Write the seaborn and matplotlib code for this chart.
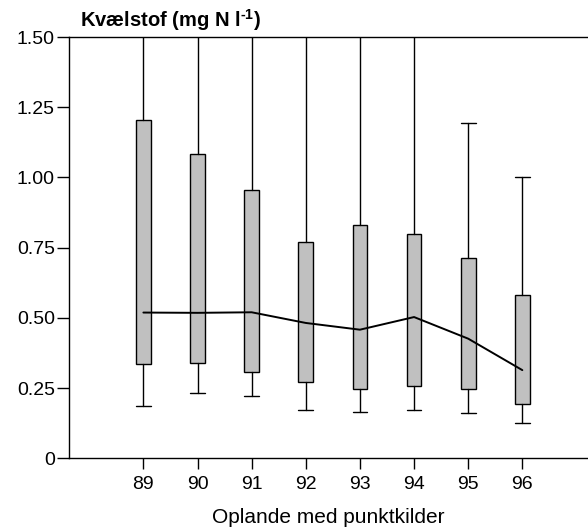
import matplotlib
matplotlib.use("Agg")
import matplotlib.pyplot as plt
import seaborn as sns
import pandas as pd

# Nitrogen concentrations in catchments with point sources, by year
years = ["89", "90", "91", "92", "93", "94", "95", "96"]
whisker_low = [0.185, 0.234, 0.221, 0.173, 0.165, 0.171, 0.161, 0.127]
q1 = [0.337, 0.341, 0.306, 0.270, 0.247, 0.256, 0.245, 0.192]
median = [0.519, 0.518, 0.520, 0.482, 0.458, 0.503, 0.426, 0.314]
q3 = [1.205, 1.085, 0.957, 0.772, 0.832, 0.799, 0.714, 0.581]
whisker_high = [1.90, 1.85, 1.80, 1.70, 1.75, 1.80, 1.195, 1.002]

y_ticks = [0, 0.25, 0.50, 0.75, 1.00, 1.25, 1.50]
y_tick_labels = ["0", "0.25", "0.50", "0.75", "1.00", "1.25", "1.50"]

sns.set_theme(style="ticks")
plt.rcParams["font.family"] = ["Liberation Sans", "DejaVu Sans"]
plt.rcParams["mathtext.fontset"] = "custom"
plt.rcParams["mathtext.rm"] = "Liberation Sans:bold"
plt.rcParams["mathtext.bf"] = "Liberation Sans:bold"

fig = plt.figure(figsize=(5.88, 5.30), dpi=100)
ax = fig.add_axes([0.118, 0.1353, 0.882, 0.7947])

positions = list(range(len(years)))
stats = [
    dict(whislo=lo, q1=a, med=m, q3=b, whishi=hi, label=y)
    for y, lo, a, m, b, hi in zip(years, whisker_low, q1, median, q3, whisker_high)
]
ax.bxp(
    stats,
    positions=positions,
    widths=0.27,
    capwidths=0.27,
    showfliers=False,
    patch_artist=True,
    boxprops=dict(facecolor="#c0c0c0", edgecolor="black", linewidth=1.0),
    whiskerprops=dict(color="black", linewidth=1.0),
    capprops=dict(color="black", linewidth=1.0),
    medianprops=dict(linewidth=0),
)

med_df = pd.DataFrame({"pos": positions, "median": median})
sns.lineplot(data=med_df, x="pos", y="median", color="black", linewidth=1.4, ax=ax)

ax.set_xlim(-1.367, 8.213)
ax.set_ylim(0, 1.5)
ax.set_xticks(positions)
ax.set_xticklabels(years)
ax.set_yticks(y_ticks)
ax.set_yticklabels(y_tick_labels)
ax.tick_params(axis="both", labelsize=14, color="black", labelcolor="black",
               width=1.0, direction="out")
ax.tick_params(axis="y", length=8.5, pad=2)
ax.tick_params(axis="x", length=8, pad=5)

for side in ["left", "bottom", "top"]:
    ax.spines[side].set_visible(True)
    ax.spines[side].set_color("black")
    ax.spines[side].set_linewidth(1.0)
ax.spines["right"].set_visible(False)

ax.set_xlabel("Oplande med punktkilder", fontsize=15, color="black")
ax.set_ylabel("")
ax.xaxis.set_label_coords(0.5, -0.14)
ax.xaxis.label.set_va("center")

fig.text(0.136, 0.962, r"Kvælstof (mg N l$^{\text{-1}}$)", fontsize=14.5,
         fontweight="bold", color="black", ha="left", va="center")

fig.savefig("out.png", dpi=100)
